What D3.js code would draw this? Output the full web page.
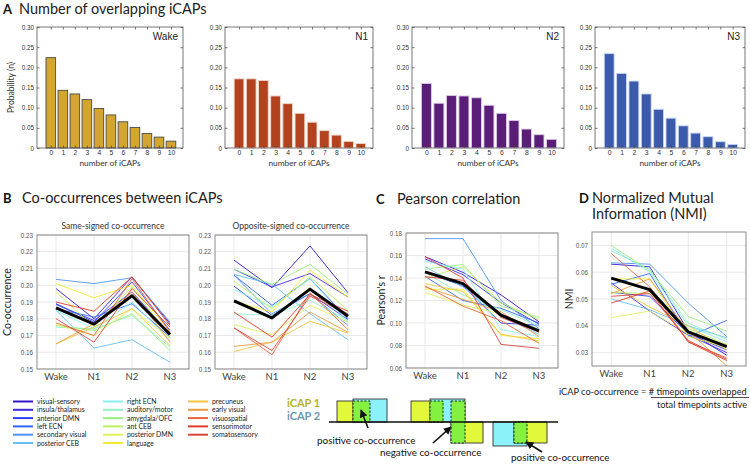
<!DOCTYPE html>
<html><head><meta charset="utf-8">
<script src="https://cdn.jsdelivr.net/npm/d3@7"></script>
<style>body{margin:0;background:#fff} svg{display:block}</style>
</head><body><svg id="c" width="750" height="465"></svg>
<script>
// ---------------- DATA ----------------
const iCapCounts = [0,1,2,3,4,5,6,7,8,9,10];
const stages = ["Wake","N1","N2","N3"];
const probWake = [0.224,0.143,0.134,0.120,0.098,0.082,0.065,0.051,0.036,0.027,0.017];
const probN1   = [0.1715,0.1715,0.1675,0.129,0.110,0.086,0.064,0.043,0.032,0.0165,0.011];
const probN2   = [0.160,0.111,0.130,0.129,0.1245,0.106,0.086,0.068,0.047,0.033,0.0215];
const probN3   = [0.234,0.185,0.166,0.134,0.096,0.074,0.055,0.037,0.028,0.0156,0.009];

const networks = ["visual-sensory","insula/thalamus","anterior DMN","left ECN","secondary visual","posterior CEB",
  "right ECN","auditory/motor","amygdala/OFC","ant CEB","posterior DMN","language",
  "precuneus","early visual","visuospatial","sensorimotor","somatosensory"];
const netColors = ["#3516c9","#3d2ae4","#2b3ff3","#2f66f2","#4d94f5","#64c0f6","#88eef2","#92f0c6",
  "#98f07e","#bcf15c","#e0f35c","#f4ec2c","#f2c53c","#eb9b3c","#e7683a","#e23a28","#d8463e"];

// series per network: [Wake, N1, N2, N3]
const sameSigned = [
  [0.198,0.180,0.205,0.177],[0.1885,0.179,0.196,0.171],[0.189,0.178,0.202,0.173],[0.186,0.181,0.189,0.169],
  [0.2035,0.201,0.2045,0.178],[0.185,0.1625,0.1675,0.154],[0.185,0.174,0.190,0.167],[0.175,0.174,0.182,0.163],
  [0.176,0.173,0.183,0.161],[0.196,0.175,0.199,0.169],[0.1765,0.170,0.186,0.168],[0.201,0.1925,0.200,0.172],
  [0.165,0.175,0.186,0.164],[0.165,0.177,0.196,0.166],[0.1775,0.170,0.204,0.172],[0.190,0.1845,0.205,0.176],
  [0.180,0.166,0.198,0.175]];
const sameSignedMean = [0.1865,0.1768,0.1937,0.1706];

const oppositeSigned = [
  [0.215,0.1985,0.2235,0.1955],[0.2095,0.199,0.207,0.193],[0.1995,0.182,0.195,0.1795],[0.206,0.188,0.204,0.180],
  [0.206,0.183,0.195,0.176],[0.2065,0.2005,0.183,0.1675],[0.1975,0.187,0.204,0.178],[0.183,0.182,0.191,0.179],
  [0.2095,0.2005,0.2125,0.1945],[0.2025,0.186,0.205,0.185],[0.1765,0.1705,0.188,0.178],[0.1905,0.184,0.209,0.193],
  [0.1605,0.166,0.1785,0.1715],[0.1635,0.166,0.184,0.172],[0.1745,0.1585,0.1955,0.1735],[0.184,0.169,0.1945,0.1845],
  [0.1745,0.161,0.1935,0.183]];
const oppositeSignedMean = [0.1907,0.1805,0.1977,0.1815];

const pearson = [
  [0.159,0.145,0.125,0.101],[0.157,0.143,0.118,0.099],[0.145,0.133,0.100,0.098],[0.1415,0.120,0.113,0.100],
  [0.175,0.175,0.120,0.095],[0.150,0.132,0.106,0.090],[0.155,0.148,0.094,0.088],[0.145,0.125,0.112,0.097],
  [0.148,0.152,0.115,0.105],[0.140,0.150,0.118,0.103],[0.127,0.116,0.108,0.094],[0.130,0.130,0.089,0.086],
  [0.135,0.128,0.090,0.084],[0.132,0.121,0.110,0.088],[0.133,0.115,0.102,0.082],[0.141,0.138,0.105,0.092],
  [0.159,0.140,0.081,0.0775]];
const pearsonMean = [0.1455,0.1350,0.1070,0.0930];

const nmi = [
  [0.063,0.062,0.038,0.029],[0.056,0.0455,0.0365,0.030],[0.0525,0.051,0.037,0.031],[0.0555,0.0595,0.036,0.042],
  [0.0635,0.063,0.0485,0.036],[0.050,0.046,0.040,0.0355],[0.069,0.060,0.040,0.034],[0.068,0.061,0.041,0.035],
  [0.070,0.0605,0.0435,0.038],[0.0525,0.052,0.039,0.033],[0.043,0.0455,0.037,0.033],[0.0575,0.0575,0.036,0.032],
  [0.055,0.047,0.040,0.031],[0.052,0.0575,0.038,0.025],[0.067,0.0545,0.034,0.028],[0.0485,0.053,0.034,0.027],
  [0.051,0.052,0.0345,0.0275]];
const nmiMean = [0.0578,0.0535,0.0377,0.0322];

const probTicks = [0,0.05,0.10,0.15,0.20,0.25,0.30];
const coTicks = [0.15,0.16,0.17,0.18,0.19,0.20,0.21,0.22,0.23];
const pearsonTicks = [0.06,0.08,0.10,0.12,0.14,0.16,0.18];
const nmiTicks = [0.03,0.04,0.05,0.06,0.07];

// ---------------- DRAW ----------------
const svg = d3.select("#c");
svg.append("rect").attr("width",750).attr("height",465).attr("fill","#fff");
const TF = "Lato, 'Open Sans', sans-serif";
const AF = "'Liberation Sans', Arial, sans-serif";

function panelTitle(x, y, letter, lines, lx){
  svg.append("text").attr("x",x).attr("y",y).attr("font-family",TF).attr("font-weight","bold")
    .attr("font-size",13).attr("fill","#111").text(letter);
  lines.forEach((t,i)=>svg.append("text").attr("x",lx).attr("y",y+i*16).attr("font-family",TF)
    .attr("font-size",14.5).attr("fill","#222").text(t));
}
panelTitle(3,14,"A",["Number of overlapping iCAPs"],19);
panelTitle(3,203,"B",["Co-occurrences between iCAPs"],22);
panelTitle(376,204,"C",["Pearson correlation"],397);
panelTitle(579,203,"D",["Normalized Mutual","Information (NMI)"],592);

function styleAxis(g, fs){
  g.select(".domain").remove();
  g.selectAll("line").attr("stroke","#444").attr("stroke-width",0.7);
  g.selectAll("text").attr("font-family",AF).attr("font-size",fs).attr("fill","#333");
}

function barChart(x0,x1,y0,y1,data,fill,stroke,label,showYLabel){
  const g = svg.append("g");
  const xs = d3.scaleLinear().domain([-1.15,11]).range([x0,x1]);
  const ys = d3.scaleLinear().domain([0,0.30]).range([y1,y0]);
  g.append("rect").attr("x",x0).attr("y",y0).attr("width",x1-x0).attr("height",y1-y0).attr("fill","#fff");
  g.selectAll(".bar").data(data).join("rect")
    .attr("x",(d,i)=>xs(iCapCounts[i]-0.4)).attr("width",xs(0.8)-xs(0))
    .attr("y",d=>ys(d)).attr("height",d=>ys(0)-ys(d))
    .attr("fill",fill).attr("stroke",stroke).attr("stroke-width",0.9);
  g.append("rect").attr("x",x0).attr("y",y0).attr("width",x1-x0).attr("height",y1-y0)
    .attr("fill","none").attr("stroke","#555").attr("stroke-width",0.8);
  const ax = g.append("g").attr("transform",`translate(0,${y1})`)
    .call(d3.axisBottom(xs).tickValues(iCapCounts).tickSizeInner(-2.5).tickSizeOuter(0).tickPadding(2));
  styleAxis(ax,6.8);
  const at = g.append("g").attr("transform",`translate(0,${y0})`)
    .call(d3.axisTop(xs).tickValues(iCapCounts).tickSizeInner(-2.5).tickSizeOuter(0).tickFormat(""));
  styleAxis(at,7);
  const ay = g.append("g").attr("transform",`translate(${x0},0)`)
    .call(d3.axisLeft(ys).tickValues(probTicks).tickSizeInner(-2.5).tickSizeOuter(0).tickPadding(3)
      .tickFormat(d=>d===0?"0":d3.format(".2f")(d)));
  styleAxis(ay,6.3);
  const ar = g.append("g").attr("transform",`translate(${x1},0)`)
    .call(d3.axisRight(ys).tickValues(probTicks).tickSizeInner(-2.5).tickSizeOuter(0).tickFormat(""));
  styleAxis(ar,6.3);
  g.append("text").attr("x",x1-5).attr("y",y0+13).attr("text-anchor","end").attr("font-family",AF)
    .attr("font-size",10).attr("fill","#222").text(label);
  g.append("text").attr("x",(x0+x1)/2).attr("y",y1+18).attr("text-anchor","middle").attr("font-family",TF)
    .attr("font-size",8.3).attr("fill","#333").text("number of iCAPs");
  if(showYLabel){
    g.append("text").attr("transform",`translate(${x0-23},${(y0+y1)/2}) rotate(-90)`).attr("text-anchor","middle")
      .attr("font-family",TF).attr("font-size",8.5).attr("fill","#333").text("Probability (n)");
  }
}
barChart(37,183,27,148,probWake,"#d4a630","#4a4a4a","Wake",true);
barChart(225,373,27,148,probN1,"#b3431f","#f2d6c8","N1",false);
barChart(412,564,27,148,probN2,"#5a1e78","#dccbe8","N2",false);
barChart(595,745,27,148,probN3,"#3b5aac","#cad6f2","N3",false);

let clipId = 0;
function lineChart(x0,x1,y0,y1,domain,ticks,series,mean,subtitle,ylabel,ylx,fmt){
  const g = svg.append("g");
  const xs = d3.scaleLinear().domain([-0.5,3.5]).range([x0,x1]);
  const ys = d3.scaleLinear().domain(domain).range([y1,y0]);
  g.selectAll(".gx").data(stages).join("line").attr("x1",(d,i)=>xs(i)).attr("x2",(d,i)=>xs(i))
    .attr("y1",y0).attr("y2",y1).attr("stroke","#e3e3e3").attr("stroke-width",0.8);
  g.selectAll(".gy").data(ticks).join("line").attr("x1",x0).attr("x2",x1).attr("y1",d=>ys(d)).attr("y2",d=>ys(d))
    .attr("stroke","#e3e3e3").attr("stroke-width",0.8);
  const id = "clip"+(clipId++);
  svg.append("clipPath").attr("id",id).append("rect").attr("x",x0).attr("y",y0).attr("width",x1-x0).attr("height",y1-y0);
  const line = d3.line().x((d,i)=>xs(i)).y(d=>ys(d));
  const lg = g.append("g").attr("clip-path",`url(#${id})`);
  lg.selectAll(".ln").data(series).join("path").attr("d",line).attr("fill","none")
    .attr("stroke",(d,i)=>netColors[i]).attr("stroke-width",0.9);
  lg.append("path").datum(mean).attr("d",line).attr("fill","none").attr("stroke","#000").attr("stroke-width",3)
    .attr("stroke-linejoin","round");
  g.append("rect").attr("x",x0).attr("y",y0).attr("width",x1-x0).attr("height",y1-y0)
    .attr("fill","none").attr("stroke","#6e6e6e").attr("stroke-width",0.8);
  const ay = g.append("g").attr("transform",`translate(${x0},0)`)
    .call(d3.axisLeft(ys).tickValues(ticks).tickSize(0).tickPadding(4).tickFormat(d3.format(fmt)));
  styleAxis(ay,6.3);
  ay.selectAll("text").attr("fill","#555");
  g.selectAll(".xl").data(stages).join("text").attr("x",(d,i)=>xs(i)).attr("y",y1+11).attr("text-anchor","middle")
    .attr("font-family",TF).attr("font-size",9.5).attr("fill","#444").text(d=>d);
  if(subtitle) g.append("text").attr("x",(x0+x1)/2).attr("y",y0-6).attr("text-anchor","middle")
    .attr("font-family",TF).attr("font-size",8.5).attr("fill","#333").text(subtitle);
  if(ylabel) g.append("text").attr("transform",`translate(${ylx},${(y0+y1)/2}) rotate(-90)`).attr("text-anchor","middle")
    .attr("font-family",TF).attr("font-size",10.5).attr("fill","#222").text(ylabel);
}
lineChart(37,189,235,369,[0.15,0.23],coTicks,sameSigned,sameSignedMean,"Same-signed co-occurrence","Co-occurrence",11,".2f");
lineChart(215,367,235,369,[0.15,0.23],coTicks,oppositeSigned,oppositeSignedMean,"Opposite-signed co-occurrence",null,0,".2f");
lineChart(406,558,233,368,[0.06,0.18],pearsonTicks,pearson,pearsonMean,null,"Pearson's r",385,".2f");
lineChart(592,746,232,366,[0.025,0.075],nmiTicks,nmi,nmiMean,null,"NMI",573,".2f");

// legend
const cols = [[0,6,12],[6,12,102],[12,17,187]];
cols.forEach(([a,b,x])=>{
  for(let i=a;i<b;i++){
    const y = 401.5 + (i-a)*8.3;
    svg.append("line").attr("x1",x+1).attr("x2",x+21).attr("y1",y).attr("y2",y)
      .attr("stroke",netColors[i]).attr("stroke-width",2);
    svg.append("text").attr("x",x+25).attr("y",y+2.5).attr("font-family",TF).attr("font-size",6.9)
      .attr("fill","#222").text(networks[i]);
  }
});

// formula
svg.append("text").attr("x",559).attr("y",395).attr("font-family",TF).attr("font-size",9.2).attr("fill","#222")
  .text("iCAP co-occurrence = #  timepoints overlapped");
svg.append("line").attr("x1",651).attr("x2",749).attr("y1",397.5).attr("y2",397.5).attr("stroke","#222").attr("stroke-width",0.8);
svg.append("text").attr("x",702).attr("y",407.5).attr("text-anchor","middle").attr("font-family",TF).attr("font-size",9.2)
  .attr("fill","#222").text("total timepoints active");

// schematic
svg.append("text").attr("x",287).attr("y",406.5).attr("font-family",TF).attr("font-weight","bold").attr("font-size",11)
  .attr("fill","#b3b42a").text("iCAP 1");
svg.append("text").attr("x",287).attr("y",420).attr("font-family",TF).attr("font-weight","bold").attr("font-size",11)
  .attr("fill","#6f96aa").text("iCAP 2");
const Y="#e2f83a", C="#8af2f8", G="#84f040";
function box(x,y,w,h,fill,dashed){
  svg.append("rect").attr("x",x).attr("y",y).attr("width",w).attr("height",h).attr("fill",fill)
    .attr("stroke",dashed?"#111":"#333").attr("stroke-width",0.9).attr("stroke-dasharray",dashed?"2.2,1.6":null);
}
box(337,401,33,21,Y); box(353,399,34,23,C); box(353,401,17,21,G,true);
box(411,401,32,21,Y); box(430,399,35,23,C); box(451,422,32,21,Y); box(430,401,13,21,G,true); box(451,401,14,42,G,true);
box(493,422,34,24,C); box(514,422,33,21,Y); box(514,422,13,21,G,true);
svg.append("line").attr("x1",329).attr("x2",558).attr("y1",422).attr("y2",422).attr("stroke","#111").attr("stroke-width",1.3);
svg.append("defs").append("marker").attr("id","ah").attr("viewBox","0 0 10 10").attr("refX",9).attr("refY",5)
  .attr("markerWidth",5).attr("markerHeight",5).attr("orient","auto")
  .append("path").attr("d","M0,0 L10,5 L0,10 z").attr("fill","#111");
[[368,428,361,410],[433,443,451,427],[542,452,526,442]].forEach(([a,b,c,d])=>
  svg.append("line").attr("x1",a).attr("y1",b).attr("x2",c).attr("y2",d).attr("stroke","#111")
    .attr("stroke-width",1.6).attr("marker-end","url(#ah)"));
[["positive co-occurrence",317,444],["negative co-occurrence",380,456],["positive co-occurrence",511,461]].forEach(([t,x,y])=>
  svg.append("text").attr("x",x).attr("y",y).attr("font-family",TF).attr("font-size",9.9).attr("fill","#111").text(t));
</script></body></html>
